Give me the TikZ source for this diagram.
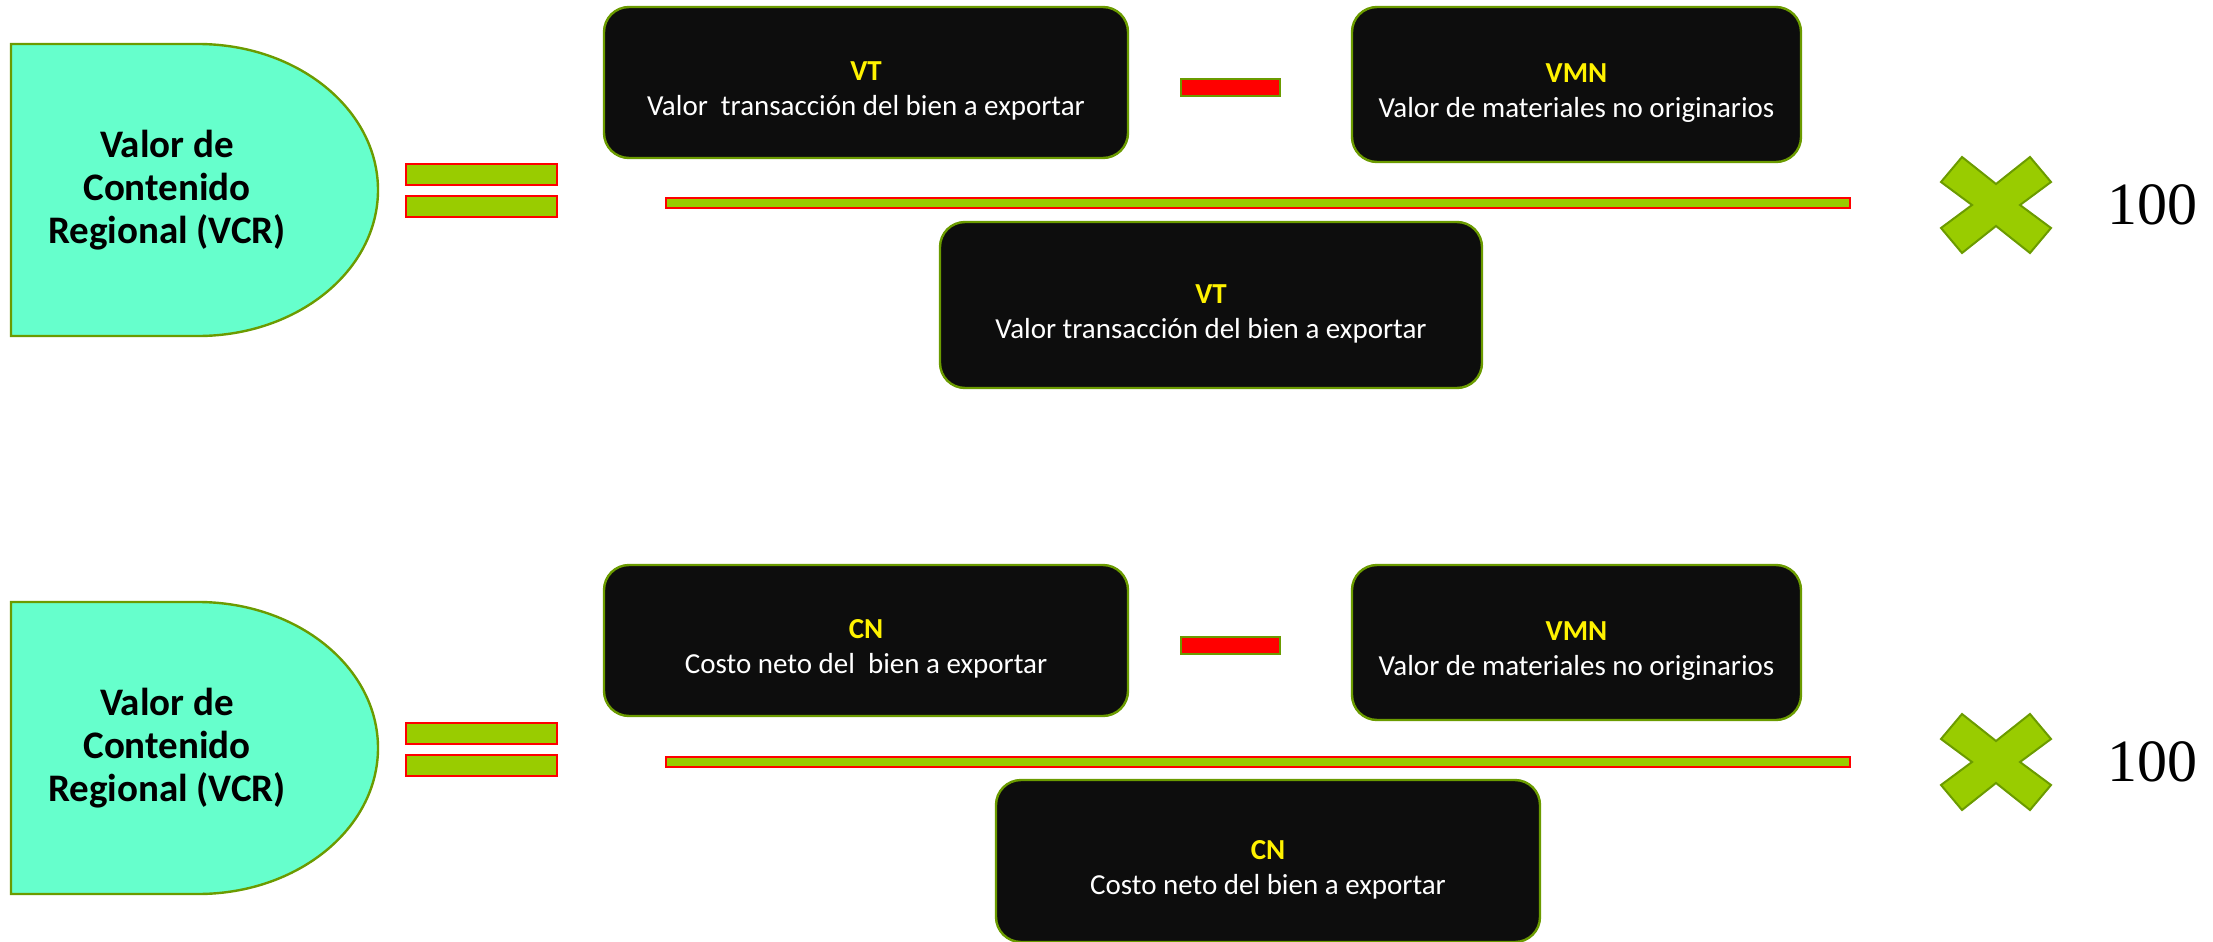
\documentclass[tikz,border=0pt]{standalone}
\usepackage{fontspec}
\setmainfont{Carlito}
\newfontfamily\numfont{Liberation Serif}
\usetikzlibrary{positioning}
\definecolor{mint}{HTML}{66FFCC}
\definecolor{leafgreen}{HTML}{6B9B00}
\definecolor{bargreen}{HTML}{99CC00}
\definecolor{boxblack}{HTML}{0D0D0D}

\begin{document}
\begin{tikzpicture}[x=0.5pt, y=-0.5pt,
    vcr/.style = {draw=leafgreen, fill=mint, line width=1.2pt},
    vcrtext/.style = {align=center, font=\fontsize{19.5}{21.5}\selectfont\bfseries, text=black},
    termbox/.style = {draw=leafgreen, fill=boxblack, line width=1.2pt, rounded corners=12.5pt,
        text=white, align=center, font=\fontsize{14.5}{17.5}\selectfont, inner sep=0pt},
    eqbar/.style = {draw=red, fill=bargreen, line width=1pt, minimum width=75.5pt, minimum height=10.5pt, inner sep=0pt},
    minusbar/.style = {draw=leafgreen, fill=red, line width=1pt, minimum width=49.5pt, minimum height=8.5pt, inner sep=0pt},
    fracbar/.style = {draw=red, fill=bargreen, line width=1pt, minimum width=592pt, minimum height=5pt, inner sep=0pt},
    timesmark/.style = {draw=leafgreen, fill=bargreen, line width=1pt},
    hundred/.style = {font=\numfont\fontsize{30}{30}\selectfont, inner sep=0pt}]
    \useasboundingbox (0,0) rectangle (2213,942);

    % Top formula

    \draw[vcr] (11,44) -- (198,44) arc[start angle=90, end angle=-90, x radius=90pt, y radius=73pt] -- (11,336) -- cycle;
    \node[vcrtext] (vcr1) at (167,190) {Valor de\\Contenido\\Regional (VCR)};

    \node[eqbar] (eq1a) at (481.5,174.5) {};
    \node[eqbar] (eq1b) at (481.5,206.5) {};

    \node[termbox, minimum width=262pt, minimum height=75.5pt] (vt1) at (866,82.5)
        {\rule{0pt}{18pt}{\color{yellow}\bfseries VT}\\Valor\ \ transacción del bien a exportar};
    \node[minusbar] (minus1) at (1230.5,87.5) {};
    \node[termbox, minimum width=224.5pt, minimum height=77.5pt] (vmn1) at (1576.5,84.5)
        {\rule{0pt}{18pt}{\color{yellow}\bfseries VMN}\\Valor de materiales no originarios};
    \node[fracbar] (frac1) at (1258,203) {};
    \node[termbox, minimum width=271pt, minimum height=83pt] (vt2) at (1211,305)
        {\rule{0pt}{18pt}{\color{yellow}\bfseries VT}\\Valor transacción del bien a exportar};

    \coordinate (x1) at (1996,205);
    \begin{scope}[shift={(x1)}]
        \draw[timesmark] (-34,-48) -- (0,-21) -- (34,-48) -- (55,-23) -- (24,0) -- (55,23)
            -- (34,48) -- (0,21) -- (-34,48) -- (-55,23) -- (-24,0) -- (-55,-23) -- cycle;
    \end{scope}
    \node[hundred] (h1) at (2152,205) {100};

    % Bottom formula

    \draw[vcr] (11,602) -- (198,602) arc[start angle=90, end angle=-90, x radius=90pt, y radius=73pt] -- (11,894) -- cycle;
    \node[vcrtext] (vcr2) at (167,748) {Valor de\\Contenido\\Regional (VCR)};

    \node[eqbar] (eq2a) at (481.5,733) {};
    \node[eqbar] (eq2b) at (481.5,765.5) {};

    \node[termbox, minimum width=262pt, minimum height=75.5pt] (cn1) at (866,640.5)
        {\rule{0pt}{18pt}{\color{yellow}\bfseries CN}\\Costo neto del\ \ bien a exportar};
    \node[minusbar] (minus2) at (1230.5,645.5) {};
    \node[termbox, minimum width=224.5pt, minimum height=77.5pt] (vmn2) at (1576.5,642.5)
        {\rule{0pt}{18pt}{\color{yellow}\bfseries VMN}\\Valor de materiales no originarios};
    \node[fracbar] (frac2) at (1258,761.5) {};
    \node[termbox, minimum width=272pt, minimum height=81pt] (cn2) at (1268,861)
        {\rule{0pt}{18pt}{\color{yellow}\bfseries CN}\\Costo neto del bien a exportar};

    \coordinate (x2) at (1996,762);
    \begin{scope}[shift={(x2)}]
        \draw[timesmark] (-34,-48) -- (0,-21) -- (34,-48) -- (55,-23) -- (24,0) -- (55,23)
            -- (34,48) -- (0,21) -- (-34,48) -- (-55,23) -- (-24,0) -- (-55,-23) -- cycle;
    \end{scope}
    \node[hundred] (h2) at (2152,762) {100};

\end{tikzpicture}
\end{document}
